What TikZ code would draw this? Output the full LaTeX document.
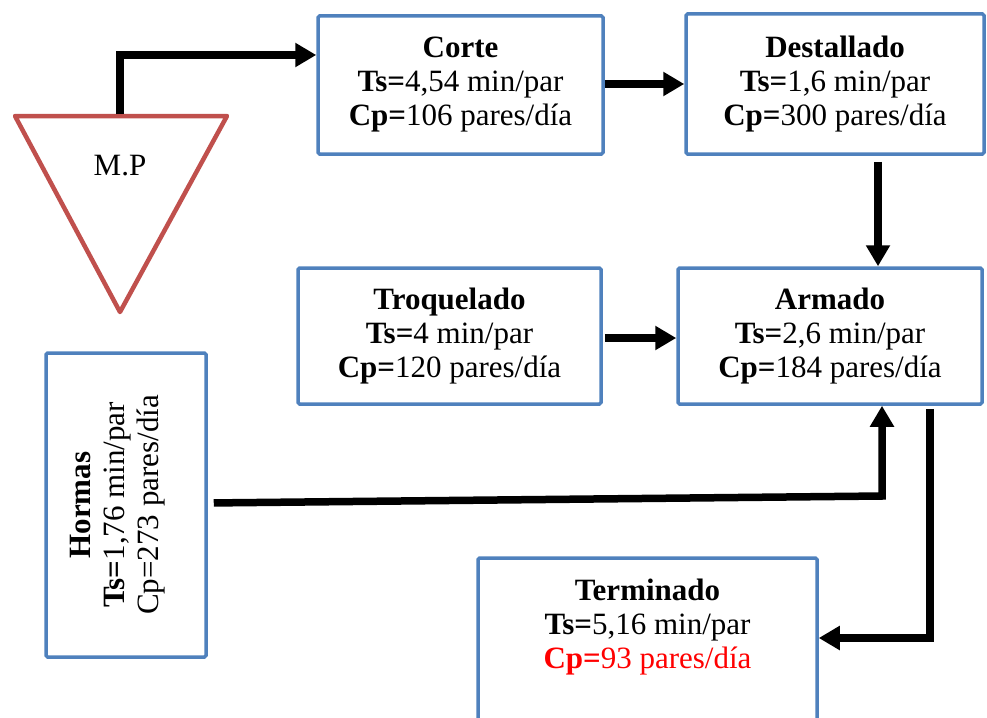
\documentclass[tikz,border=0pt]{standalone}
\usepackage{fontspec}
\setmainfont{Liberation Serif}
\usetikzlibrary{arrows.meta}
\definecolor{boxblue}{RGB}{79,129,189}
\definecolor{mpred}{RGB}{192,80,77}
\tikzset{
  procbox/.style={draw=boxblue, line width=3.5pt, rounded corners=1.5pt, align=center, inner sep=0pt},
  flow/.style={line width=7.5pt, -{Triangle[length=21pt,width=23pt]}},
}
\begin{document}
\begin{tikzpicture}[x=1pt, y=-1pt, font=\fontsize{31}{34}\selectfont]
    \useasboundingbox (0,0) rectangle (987,717);
    % materia prima
    \draw [mpred, line width=4.5pt, line join=round] (15,116) -- (227,116) -- (120,312) -- cycle;
    \node (mp) at (120,166) {M.P};
    \coordinate (mptop) at (120,114); \coordinate (mpbend) at (120,55);
    % procesos
    \node [procbox, minimum width=285, minimum height=138] (corte) at (460.5,85) {\textbf{Corte}\\\textbf{Ts=}4,54 min/par\\\textbf{Cp=}106 pares/día};
    \node [procbox, minimum width=298, minimum height=140] (destallado) at (835,84) {\textbf{Destallado}\\\textbf{Ts=}1,6 min/par\\\textbf{Cp=}300 pares/día};
    \node [procbox, minimum width=303, minimum height=136] (troquelado) at (449.5,336) {\textbf{Troquelado}\\\textbf{Ts=}4 min/par\\\textbf{Cp=}120 pares/día};
    \node [procbox, minimum width=304, minimum height=136] (armado) at (830,336) {\textbf{Armado}\\\textbf{Ts=}2,6 min/par\\\textbf{Cp=}184 pares/día};
    \node [procbox, minimum width=160, minimum height=304] (hormas) at (126,505) {};
    \node [rotate=90, align=center] (hormastxt) at (118,505) {\textbf{Hormas}\\\textbf{Ts=}1,76 min/par\\Cp=273 pares/día};
    \node [procbox, minimum width=339, minimum height=180] (terminado) at (647.5,648) {};
    \node [align=center] (terminadotxt) at (647.5,627) {\textbf{Terminado}\\\textbf{Ts=}5,16 min/par\\\textcolor{red}{\textbf{Cp=}93 pares/día}};
    \coordinate (hbend) at (882,496); \coordinate (tbend) at (930,638);
    % flechas
    \draw [flow] (mptop) -- (mpbend) -- (mpbend -| corte.west);
    \draw [flow] ([yshift=1pt]corte.east) -- ([yshift=1pt]corte.east -| destallado.west);
    \draw [flow, shorten <=6pt] ([xshift=43pt]destallado.south) -- ([xshift=43pt]destallado.south |- armado.north);
    \draw [flow, shorten <=2pt] ([yshift=-2pt]troquelado.east) -- ([yshift=-2pt]troquelado.east -| armado.west);
    \draw [flow, shorten <=6pt] (hormas.east |- 0,503) -- (hbend) -- (hbend |- armado.south);
    \draw [flow, shorten <=3pt] (tbend |- armado.south) -- (tbend) -- (tbend -| terminado.east);
\end{tikzpicture}
\end{document}
